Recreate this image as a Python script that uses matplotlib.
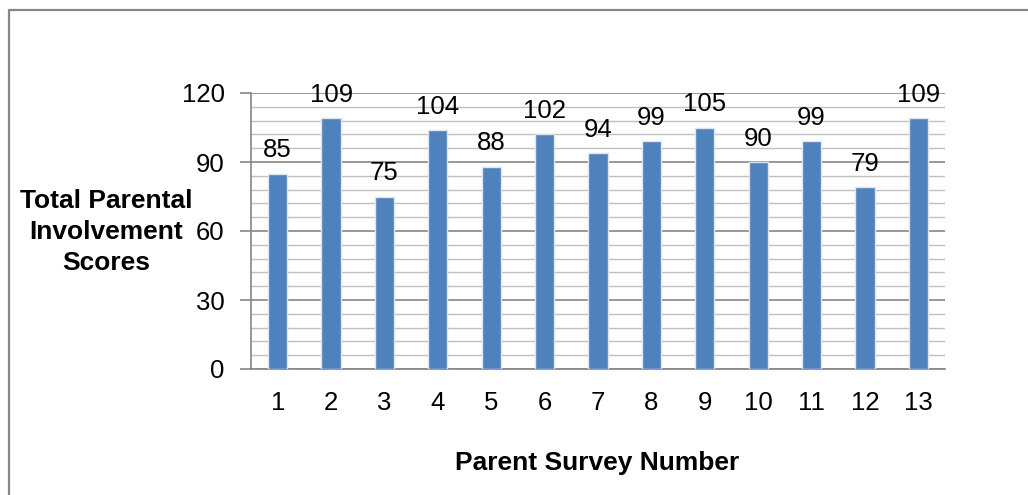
#!/usr/bin/env python3

import matplotlib
matplotlib.use('Agg')
import matplotlib.pyplot as plt
from matplotlib.lines import Line2D
from matplotlib.ticker import MultipleLocator

surveys = [str(i) for i in range(1, 14)]
scores = [85, 109, 75, 104, 88, 102, 94, 99, 105, 90, 99, 79, 109]

W, H = 1028, 495


def main():

    plt.rcParams['font.family'] = ['Liberation Sans', 'DejaVu Sans']

    fig = plt.figure(figsize=(W / 100, H / 100), dpi=100)
    ax = fig.add_axes([251 / W, 1 - 369 / H, (945 - 251) / W, (369 - 93) / H])

    x = list(range(1, len(surveys) + 1))
    bars = ax.bar(x, scores, width=0.36, color='#4F81BD',
                  edgecolor='#dce4ee', linewidth=1.0, zorder=3)
    for b, v in zip(bars, scores):
        ax.annotate(str(v), (b.get_x() + b.get_width() / 2, v),
                    xytext=(0, 8), textcoords='offset points',
                    ha='center', va='bottom', fontsize=18.5, zorder=4)

    ax.set_xlim(0.5, 13.5)
    ax.set_ylim(0, 120)
    ax.set_xticks(x)
    ax.set_xticklabels(surveys)
    ax.yaxis.set_major_locator(MultipleLocator(30))
    ax.yaxis.set_minor_locator(MultipleLocator(6))

    # Excel-style grid: dark major, light minor
    ax.grid(which='major', axis='y', color='#868686', linewidth=1.2, zorder=1)
    ax.grid(which='minor', axis='y', color='#c0c0c0', linewidth=1.0, zorder=1)

    for side in ('top', 'right'):
        ax.spines[side].set_visible(False)
    for side in ('left', 'bottom'):
        ax.spines[side].set_color('#868686')
        ax.spines[side].set_linewidth(1.2)

    ax.tick_params(axis='y', which='major', length=8, width=1.2,
                   color='#868686', labelsize=18.5, pad=11)
    ax.tick_params(axis='y', which='minor', length=0)
    ax.tick_params(axis='x', length=0, labelsize=18.5, pad=16)

    fig.text(106 / W, 1 - 232 / H, "Total Parental\nInvolvement\nScores",
             ha='center', va='center', multialignment='center',
             fontsize=19, fontweight='bold', linespacing=1.36)
    fig.text(597 / W, 1 - 463 / H, "Parent Survey Number",
             ha='center', va='center', fontsize=19, fontweight='bold')

    # outer chart border (only left and top edges are inside the image)
    fig.add_artist(Line2D([8.5 / W, 8.5 / W, 1], [0, 1 - 9.5 / H, 1 - 9.5 / H],
                          transform=fig.transFigure, color='#868686',
                          linewidth=1.6))

    fig.savefig('out.png', dpi=100)


if __name__ == "__main__":
    main()
